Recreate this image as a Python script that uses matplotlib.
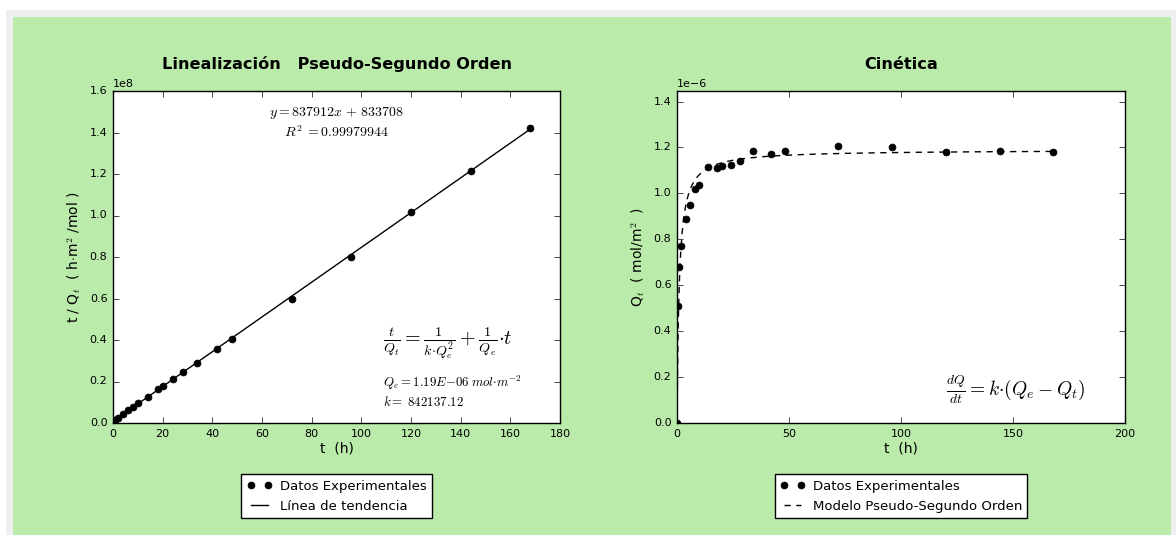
import numpy as np
import matplotlib
matplotlib.use('Agg')
import matplotlib.pyplot as plt
from matplotlib.patches import Rectangle

plt.style.use('classic')
plt.rcParams['font.family'] = ['DejaVu Sans']
plt.rcParams['mathtext.fontset'] = 'cm'
plt.rcParams['axes.formatter.limits'] = [-4, 4]

# datos experimentales (t en h, Q en mol/m2)
t = np.array([0, 0.5, 1, 2, 4, 6, 8, 10, 14, 18, 20, 24, 28, 34, 42, 48, 72, 96, 120, 144, 168])
Q = np.array([0, 0.51, 0.68, 0.77, 0.89, 0.95, 1.02, 1.035, 1.115, 1.11, 1.12, 1.125, 1.14,
              1.185, 1.17, 1.185, 1.205, 1.20, 1.18, 1.185, 1.18]) * 1e-6

# ajuste lineal t/Q = m*t + b
m = 837912
b = 833708
R2 = 0.99979944
Qe = 1.19e-6
k = 842137.12

tt = t[1:]
tQ = tt / Q[1:]

fig = plt.figure(figsize=(11.76, 5.35), dpi=100, facecolor='white')
# marco gris + fondo verde
fig.patches.append(Rectangle((6/1176, 0), 1 - 6/1176, (535-10)/535, transform=fig.transFigure,
                             facecolor='#efefef', edgecolor='none', zorder=-2))
fig.patches.append(Rectangle((13/1176, 0), (1171-13)/1176, (535-17)/535, transform=fig.transFigure,
                             facecolor='#bbebab', edgecolor='none', zorder=-1))

ax1 = fig.add_axes([113/1176, 112/535, 447/1176, 332/535])
ax2 = fig.add_axes([677/1176, 112/535, 448/1176, 332/535])

# ---- linealizacion
ax1.plot(tt, tQ, 'ko', markersize=5, label='Datos Experimentales')
ax1.plot(tt, m*tt + b, 'k-', linewidth=1, label='Línea de tendencia')
ax1.set_xlim(0, 180)
ax1.set_ylim(0, 1.6e8)
ax1.set_xticks(np.arange(0, 181, 20))
ax1.set_title('Linealización   Pseudo-Segundo Orden', fontsize=11.6, fontweight='bold', y=1.045)
ax1.set_xlabel('t  (h)', fontsize=10)
ax1.set_ylabel(r't / Q$_t$  ( h$\cdot$m$^2$ /mol )', fontsize=10)
ax1.text(0.5, 0.935, r'$y = %dx\,+\,%d$' % (m, b), transform=ax1.transAxes,
         ha='center', va='center', fontsize=10)
ax1.text(0.5, 0.875, r'$R^2\; = %.8f$' % R2, transform=ax1.transAxes,
         ha='center', va='center', fontsize=10)
ax1.text(0.605, 0.24, r'$\frac{t}{Q_t} = \frac{1}{k{\cdot}Q_e^2} + \frac{1}{Q_e}{\cdot}t$',
         transform=ax1.transAxes, ha='left', va='center', fontsize=14.5)
ax1.text(0.605, 0.12, r'$Q_e = %.2fE{-}06\;mol{\cdot}m^{-2}$' % (Qe * 1e6), transform=ax1.transAxes,
         ha='left', va='center', fontsize=9.3)
ax1.text(0.605, 0.063, r'$k = \; %.2f$' % k, transform=ax1.transAxes,
         ha='left', va='center', fontsize=9.3)

# ---- cinetica
t_mod = np.linspace(0, 168, 600)
Q_mod = Qe**2 * k * t_mod / (1 + Qe * k * t_mod)
ax2.plot(t, Q, 'ko', markersize=5, label='Datos Experimentales')
ax2.plot(t_mod, Q_mod, 'k--', linewidth=1, dashes=(4.5, 4), label='Modelo Pseudo-Segundo Orden')
ax2.set_xlim(0, 200)
ax2.set_ylim(0, 1.2 * Q.max())
ax2.set_xticks(np.arange(0, 201, 50))
ax2.set_yticks(np.arange(0, 1.41e-6, 0.2e-6))
ax2.set_title('Cinética', fontsize=11.6, fontweight='bold', y=1.045)
ax2.set_xlabel('t  (h)', fontsize=10)
ax2.set_ylabel(r'Q$_t$  ( mol/m$^2$  )', fontsize=10)
ax2.text(0.6, 0.1, r'$\frac{dQ}{dt} = k{\cdot}(Q_e - Q_t)$', transform=ax2.transAxes,
         ha='left', va='center', fontsize=14)

for ax in (ax1, ax2):
    ax.tick_params(labelsize=8)
    ax.yaxis.get_offset_text().set_fontsize(8)
    ax.xaxis.labelpad = 2
    ax.set_facecolor('white')
    ax.legend(loc='upper center', bbox_to_anchor=(0.5, -0.155), borderaxespad=0,
              numpoints=2, fontsize=9.5, frameon=True, fancybox=False,
              handlelength=1.9, handletextpad=0.6, borderpad=0.4, labelspacing=0.55)

fig.savefig('out.png', dpi=100, facecolor=fig.get_facecolor())
